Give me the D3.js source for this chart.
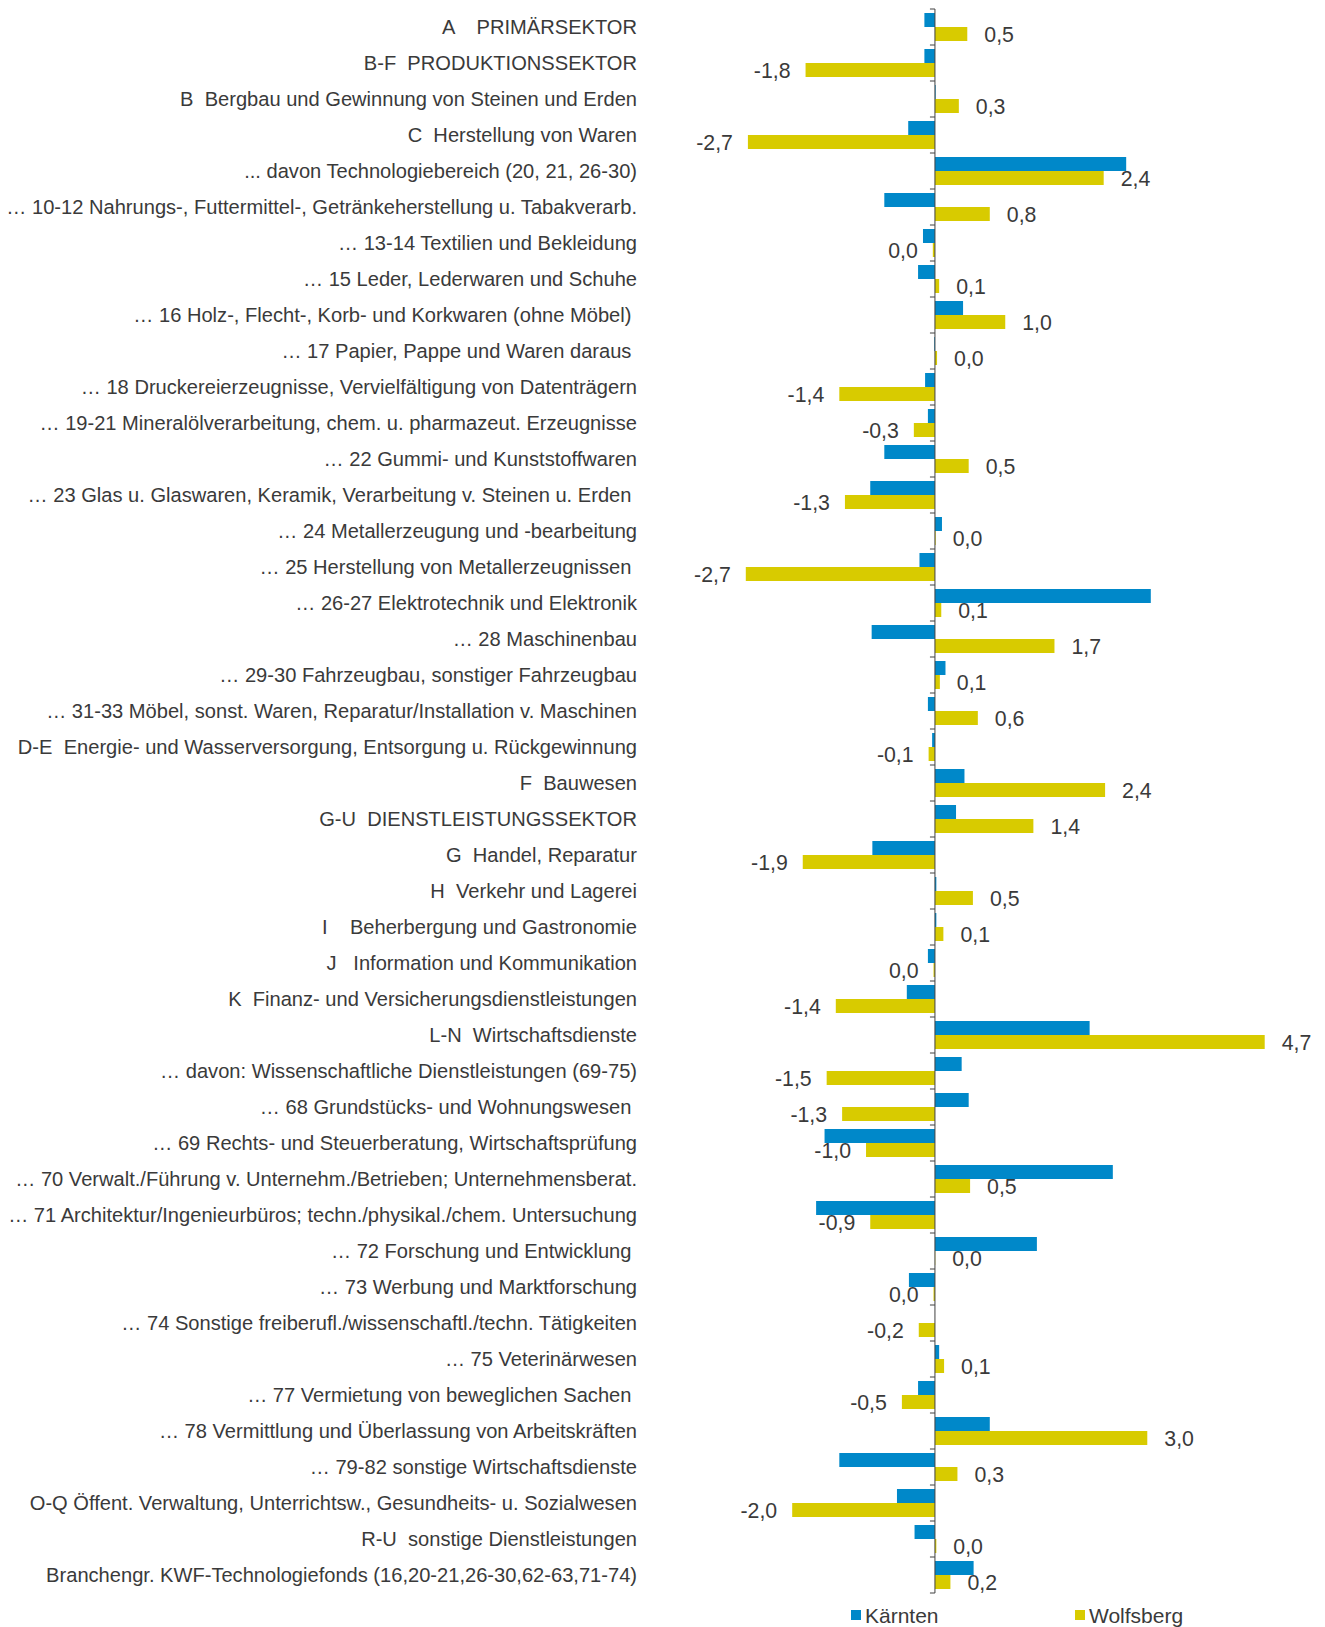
<!DOCTYPE html>
<html>
<head>
<meta charset="utf-8">
<script src="https://cdnjs.cloudflare.com/ajax/libs/d3/7.8.5/d3.min.js"></script>
<style>
  body { margin: 0; background: #fff; }
  text { font-family: "Liberation Sans", Arial, sans-serif; fill: #3a3a3a; white-space: pre; }
</style>
</head>
<body>
<div id="chart"></div>
<script>
var categories = [
    "A    PRIMÄRSEKTOR",
    "B-F  PRODUKTIONSSEKTOR",
    "B  Bergbau und Gewinnung von Steinen und Erden",
    "C  Herstellung von Waren",
    "... davon Technologiebereich (20, 21, 26-30)",
    "… 10-12 Nahrungs-, Futtermittel-, Getränkeherstellung u. Tabakverarb.",
    "… 13-14 Textilien und Bekleidung",
    "… 15 Leder, Lederwaren und Schuhe",
    "… 16 Holz-, Flecht-, Korb- und Korkwaren (ohne Möbel) ",
    "… 17 Papier, Pappe und Waren daraus ",
    "… 18 Druckereierzeugnisse, Vervielfältigung von Datenträgern",
    "… 19-21 Mineralölverarbeitung, chem. u. pharmazeut. Erzeugnisse",
    "… 22 Gummi- und Kunststoffwaren",
    "… 23 Glas u. Glaswaren, Keramik, Verarbeitung v. Steinen u. Erden ",
    "… 24 Metallerzeugung und -bearbeitung",
    "… 25 Herstellung von Metallerzeugnissen ",
    "… 26-27 Elektrotechnik und Elektronik",
    "… 28 Maschinenbau",
    "… 29-30 Fahrzeugbau, sonstiger Fahrzeugbau",
    "… 31-33 Möbel, sonst. Waren, Reparatur/Installation v. Maschinen",
    "D-E  Energie- und Wasserversorgung, Entsorgung u. Rückgewinnung",
    "F  Bauwesen",
    "G-U  DIENSTLEISTUNGSSEKTOR",
    "G  Handel, Reparatur",
    "H  Verkehr und Lagerei",
    "I    Beherbergung und Gastronomie",
    "J   Information und Kommunikation",
    "K  Finanz- und Versicherungsdienstleistungen",
    "L-N  Wirtschaftsdienste",
    "… davon: Wissenschaftliche Dienstleistungen (69-75)",
    "… 68 Grundstücks- und Wohnungswesen ",
    "… 69 Rechts- und Steuerberatung, Wirtschaftsprüfung",
    "… 70 Verwalt./Führung v. Unternehm./Betrieben; Unternehmensberat.",
    "… 71 Architektur/Ingenieurbüros; techn./physikal./chem. Untersuchung",
    "… 72 Forschung und Entwicklung ",
    "… 73 Werbung und Marktforschung",
    "… 74 Sonstige freiberufl./wissenschaftl./techn. Tätigkeiten",
    "… 75 Veterinärwesen",
    "… 77 Vermietung von beweglichen Sachen ",
    "… 78 Vermittlung und Überlassung von Arbeitskräften",
    "… 79-82 sonstige Wirtschaftsdienste",
    "O-Q Öffent. Verwaltung, Unterrichtsw., Gesundheits- u. Sozialwesen",
    "R-U  sonstige Dienstleistungen",
    "Branchengr. KWF-Technologiefonds (16,20-21,26-30,62-63,71-74)"
];

var kaernten = [
    -0.15, -0.15, 0.01, -0.38, 2.72, -0.72, -0.17, -0.24, 0.40, -0.01,
    -0.14, -0.10, -0.72, -0.92, 0.10, -0.22, 3.07, -0.90, 0.15, -0.10,
    -0.04, 0.42, 0.30, -0.89, 0.02, 0.02, -0.10, -0.40, 2.20, 0.38,
    0.48, -1.57, 2.53, -1.69, 1.45, -0.37, 0.00, 0.06, -0.24, 0.78,
    -1.36, -0.54, -0.29, 0.55
];

var wolfsberg = [
    0.46, -1.84, 0.34, -2.66, 2.40, 0.78, -0.03, 0.06, 1.00, 0.03,
    -1.36, -0.30, 0.48, -1.28, 0.01, -2.69, 0.09, 1.70, 0.07, 0.61,
    -0.09, 2.42, 1.40, -1.88, 0.54, 0.12, -0.02, -1.41, 4.69, -1.54,
    -1.32, -0.98, 0.50, -0.92, 0.004, -0.02, -0.23, 0.13, -0.47, 3.02,
    0.32, -2.03, 0.02, 0.22
];

var seriesNames = ["Kärnten", "Wolfsberg"];
var colors = ["#0088c9", "#d8cb00"];

var width = 1325,
    height = 1627;

var svg = d3.select("#chart").append("svg")
    .attr("width", width)
    .attr("height", height);

// x: 0 sits at 935
var x = d3.scaleLinear().domain([-3, 5]).range([724, 1286.5]);
var y = d3.scaleBand().domain(categories).range([9, 1593]);
var ySub = d3.scaleBand().domain(seriesNames).range([0, y.bandwidth()]).paddingOuter(0.2857);

var data = categories.map(function (c, i) {
    return { cat: c, values: [kaernten[i], wolfsberg[i]] };
});

var rows = svg.selectAll(".row")
    .data(data)
    .enter().append("g")
    .attr("class", "row")
    .attr("transform", function (d) { return "translate(0," + y(d.cat) + ")"; });

rows.selectAll("rect")
    .data(function (d) { return d.values.map(function (v, j) { return { name: seriesNames[j], v: v }; }); })
    .enter().append("rect")
    .attr("x", function (d) { return x(Math.min(0, d.v)); })
    .attr("width", function (d) { return Math.abs(x(d.v) - x(0)); })
    .attr("y", function (d) { return ySub(d.name); })
    .attr("height", ySub.bandwidth())
    .style("fill", function (d, j) { return colors[j]; });

function fmt(v) {
    var s = (Math.round(Math.abs(v) * 10) / 10).toFixed(1).replace(".", ",");
    return (v < 0 && Math.round(Math.abs(v) * 10) > 0 ? "-" : "") + s;
}

// value labels (Wolfsberg only)
rows.append("text")
    .attr("x", function (d) { var v = d.values[1]; return v < 0 ? x(v) - 15 : x(v) + 17; })
    .attr("y", ySub("Wolfsberg") + ySub.bandwidth() / 2)
    .attr("dy", "0.36em")
    .attr("text-anchor", function (d) { return d.values[1] < 0 ? "end" : "start"; })
    .style("font-size", "21.3px")
    .text(function (d) { return fmt(d.values[1]); });

// category labels
rows.append("text")
    .attr("x", 637)
    .attr("y", y.bandwidth() / 2)
    .attr("dy", "0.36em")
    .attr("text-anchor", "end")
    .style("font-size", "20.1px")
    .text(function (d) { return d.cat; });

// axis line with ticks at band borders
var axis = svg.append("g").attr("class", "axis");
axis.append("line")
    .attr("x1", x(0)).attr("x2", x(0))
    .attr("y1", y.range()[0]).attr("y2", y.range()[1])
    .style("stroke", "#404040").style("stroke-width", 1);
axis.selectAll(".tick")
    .data(categories.map(function (c) { return y(c); }).concat([y.range()[1]]))
    .enter().append("line")
    .attr("x1", x(0) - 5).attr("x2", x(0))
    .attr("y1", function (d) { return d; }).attr("y2", function (d) { return d; })
    .style("stroke", "#404040").style("stroke-width", 1);

// legend
var legendX = [851, 1075];
var legend = svg.selectAll(".legend")
    .data(seriesNames)
    .enter().append("g")
    .attr("class", "legend")
    .attr("transform", function (d, i) { return "translate(" + legendX[i] + ",1615)"; });
legend.append("rect")
    .attr("x", 0).attr("y", -5)
    .attr("width", 10).attr("height", 10)
    .style("fill", function (d, i) { return colors[i]; });
legend.append("text")
    .attr("x", 14).attr("y", 0).attr("dy", "0.36em")
    .style("font-size", "21px")
    .text(function (d) { return d; });
</script>
</body>
</html>
